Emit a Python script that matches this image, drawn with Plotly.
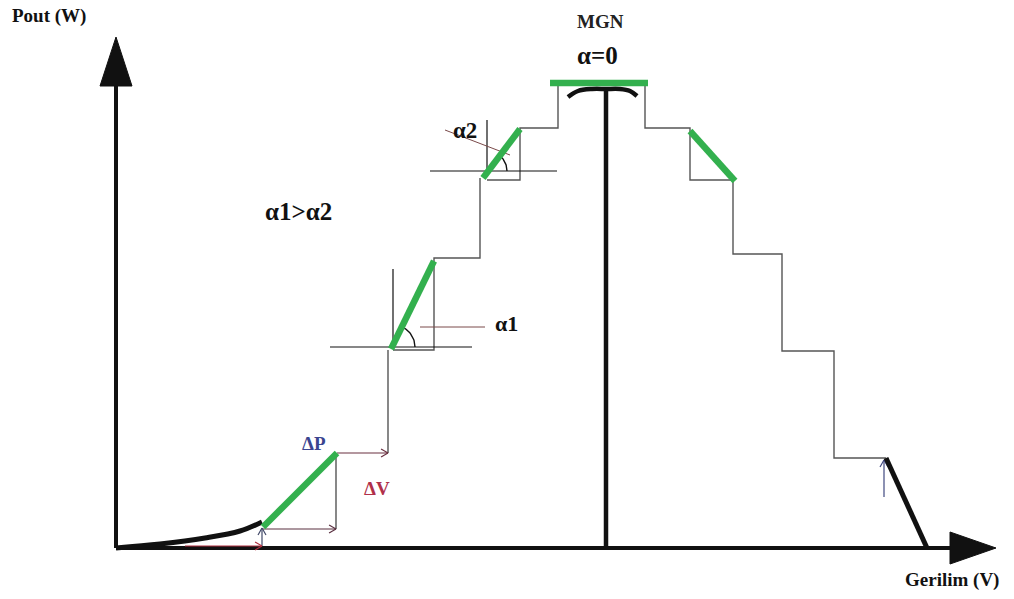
import numpy as np
import plotly.graph_objects as go

W, H = 1014, 599

# ---- diagram geometry (pixel-space coordinates, y grows downward) ----
# axes
y_axis_x = [116, 116]
y_axis_y = [548, 84]
x_axis_x = [116, 952]
x_axis_y = [548, 548]
y_head_x = [100, 132, 116]
y_head_y = [86, 86, 37]
x_head_x = [950, 950, 996]
x_head_y = [532, 564, 548]

# thin staircase path (None = gap)
stair_x = [336, 336, None, 388, 388, None, 393, 434, 434, 480, 480, None,
           487, 520, 520, 558, 558, None, 645, 645, 690, 690, 735, None,
           733, 733, 782, 782, 834, 834, 886]
stair_y = [529, 453, None, 453, 350, None, 350, 350, 258, 258, 178, None,
           180, 180, 128, 128, 83, None, 83, 128, 128, 180, 180, None,
           180, 254, 254, 351, 351, 458, 458]

# green slope segments (None = gap)
green_x = [263, 337, None, 391, 434, None, 483, 520, None, 550, 648, None, 690, 735]
green_y = [527, 453, None, 349, 261, None, 178, 129, None, 83, 83, None, 131, 181]

# thick black curves
left_curve_x = [116, 160, 205, 240, 262]
left_curve_y = [548, 544, 538, 531, 522]
right_tail_x = [886, 927]
right_tail_y = [458, 548]
mpp_stem_x = [606, 606]
mpp_stem_y = [89, 548]
mpp_cap_x = [568, 578, 592, 606, 620, 630, 637]
mpp_cap_y = [97, 91, 89, 89, 89, 91, 96]

# crosshairs
cross_x = [393, 393, None, 330, 472, None, 487, 487, None, 430, 557]
cross_y = [269, 347, None, 347, 347, None, 120, 171, None, 171, 171]

# leader lines to angle labels
leader_x = [420, 485, None, 445, 510]
leader_y = [327, 327, None, 130, 155]

# angle arcs: centre, radius, angle (deg)
arcs = [(393, 347, 22, 63.7), (487, 171, 20, 53.0)]

# small arrows: (tail_x, tail_y, head_x, head_y, colour)
arrows = [
    (263, 529, 336, 529, "#5a3040"),
    (337, 453, 388, 453, "#6a3040"),
    (262, 548, 262, 528, "#404868"),
    (884, 497, 884, 460, "#404880"),
]
arrows_on_axis = [
    (185, 546, 262, 546, "#b03040"),
]

# texts: (x, y, text, size, colour)
texts = [
    (49, 16, "<b>Pout (W)</b>", 19, "#111111"),
    (952, 580, "<b>Gerilim (V)</b>", 19, "#111111"),
    (600, 21, "<b>MGN</b>", 19, "#222222"),
    (597, 55, "<b>α=0</b>", 25, "#111111"),
    (298, 211, "<b>α1>α2</b>", 25, "#111111"),
    (506, 323, "<b>α1</b>", 22, "#111111"),
    (465, 130, "<b>α2</b>", 23, "#111111"),
    (314, 443, "<b>ΔP</b>", 19, "#3a4590"),
    (377, 488, "<b>ΔV</b>", 19, "#b0304a"),
]
FONT = "Liberation Serif"

fig = go.Figure()

def line(x, y, color, width, shape="linear"):
    fig.add_trace(go.Scatter(x=x, y=y, mode="lines", hoverinfo="skip",
                             line=dict(color=color, width=width, shape=shape),
                             connectgaps=False, showlegend=False))

def arrow(tx, ty, hx, hy, col):
    d = np.array([hx - tx, hy - ty], float)
    d /= np.linalg.norm(d)
    ax_, ay_ = [], []
    for s in (1, -1):
        a = np.radians(30) * s
        rx = -(d[0] * np.cos(a) - d[1] * np.sin(a)) * 8
        ry = -(d[0] * np.sin(a) + d[1] * np.cos(a)) * 8
        ax_ += [hx + rx, hx, None]
        ay_ += [hy + ry, hy, None]
    line([tx, hx, None] + ax_, [ty, hy, None] + ay_, col, 1.2)

line(stair_x, stair_y, "#555555", 1.4)
line(cross_x, cross_y, "#111111", 1.2)
line(leader_x, leader_y, "#7a4a4a", 1.0)
for cx, cy, r, ang in arcs:
    t = np.radians(np.linspace(0, ang, 20))
    line(list(cx + r * np.cos(t)), list(cy - r * np.sin(t)), "#111111", 1.4)

for a in arrows:
    arrow(*a)

line(y_axis_x, y_axis_y, "#111111", 4)
line(x_axis_x, x_axis_y, "#111111", 4)
for hx, hy in [(y_head_x, y_head_y), (x_head_x, x_head_y)]:
    fig.add_trace(go.Scatter(x=hx + [hx[0]], y=hy + [hy[0]], mode="lines",
                             fill="toself", fillcolor="#111111",
                             line=dict(color="#111111", width=1),
                             hoverinfo="skip", showlegend=False))
for a in arrows_on_axis:
    arrow(*a)
line(left_curve_x, left_curve_y, "#111111", 5, "spline")
line(right_tail_x, right_tail_y, "#111111", 5)
line(mpp_stem_x, mpp_stem_y, "#111111", 4.5)
line(mpp_cap_x, mpp_cap_y, "#111111", 4.5, "spline")
line(green_x, green_y, "#33b04e", 6.5)

for tx, ty, txt, size, col in texts:
    fig.add_annotation(x=tx, y=ty, xref="x", yref="y", text=txt, showarrow=False,
                       font=dict(size=size, color=col, family=FONT),
                       xanchor="center", yanchor="middle")

fig.update_layout(
    width=W, height=H, autosize=False,
    margin=dict(l=0, r=0, t=0, b=0),
    paper_bgcolor="white", plot_bgcolor="white",
    xaxis=dict(range=[0, W], visible=False, fixedrange=True),
    yaxis=dict(range=[H, 0], visible=False, fixedrange=True),
)

fig.write_html("out.html", config={"displayModeBar": False},
               post_script="document.body.style.margin='0';document.body.style.overflow='hidden';")
